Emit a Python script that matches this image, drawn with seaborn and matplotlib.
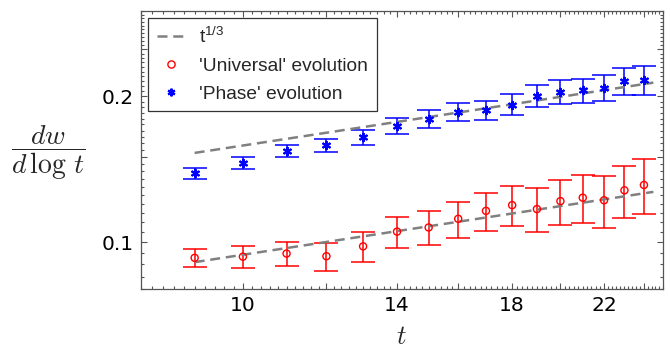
import numpy as np
import pandas as pd
import matplotlib
matplotlib.use("Agg")
import matplotlib.pyplot as plt
from matplotlib.ticker import FixedLocator, FixedFormatter, NullFormatter
from matplotlib.font_manager import FontProperties
from matplotlib.lines import Line2D
import seaborn as sns

# Time steps
t = [9, 10, 11, 12, 13, 14, 15, 16, 17, 18, 19, 20, 21, 22, 23, 24]

# 'Universal' evolution: dw/dlog t and its uncertainty
universal = [0.0929, 0.0934, 0.0948, 0.0936, 0.0981, 0.1052, 0.1073, 0.1118,
             0.1161, 0.1193, 0.1171, 0.1216, 0.1236, 0.1221, 0.1280, 0.1313]
universal_err = [0.0040, 0.0047, 0.0054, 0.0062, 0.0070, 0.0077, 0.0085, 0.0095,
                 0.0104, 0.0112, 0.0121, 0.0131, 0.0142, 0.0151, 0.0160, 0.0169]

# 'Phase' evolution: dw/dlog t and its uncertainty
phase = [0.1387, 0.1458, 0.1543, 0.1585, 0.1646, 0.1736, 0.1798, 0.1855,
         0.1872, 0.1923, 0.2004, 0.2045, 0.2057, 0.2081, 0.2150, 0.2164]
phase_err = [0.0034, 0.0040, 0.0045, 0.0052, 0.0058, 0.0066, 0.0074, 0.0080,
             0.0088, 0.0096, 0.0105, 0.0115, 0.0119, 0.0129, 0.0138, 0.0147]

# t^(1/3) reference curves: prefactors and time span
phase_coef = 0.0735
universal_coef = 0.04375
fit_span = [9.0, 24.5]

# Axis ticks
x_major = [10, 12, 14, 16, 18, 20, 22, 24]
x_major_labels = ["10", "", "14", "", "18", "", "22", ""]
y_major = [0.1, 0.15, 0.2, 0.25]
y_major_labels = ["0.1", "", "0.2", ""]

sns.set_theme(style="ticks")
plt.rcParams["font.family"] = ["DejaVu Sans"]
plt.rcParams["mathtext.fontset"] = "custom"
plt.rcParams["mathtext.rm"] = "Liberation Sans"
plt.rcParams["mathtext.it"] = "Liberation Sans:italic"
plt.rcParams["mathtext.bf"] = "Liberation Sans:bold"

fig = plt.figure(figsize=(6.7, 3.54), dpi=100)
ax = fig.add_axes([0.21, 0.1828, 0.779, 0.7862])

red = "#ff0000"
blue = "#0000ff"
gray = "#808080"
frame = "#555555"
dash = (0, (4.0, 2.3))

# Error bars
ax.errorbar(t, universal, yerr=universal_err, fmt="none", ecolor=red,
            elinewidth=1.1, capsize=8.7, capthick=1.1, zorder=2)
ax.errorbar(t, phase, yerr=phase_err, fmt="none", ecolor=blue,
            elinewidth=1.1, capsize=8.7, capthick=1.1, zorder=2)

# t^(1/3) guide lines
span = np.array(fit_span)
fits = pd.DataFrame({
    "t": np.concatenate([span, span]),
    "value": np.concatenate([phase_coef * span ** (1 / 3),
                             universal_coef * span ** (1 / 3)]),
    "curve": ["phase"] * 2 + ["universal"] * 2,
})
for name, grp in fits.groupby("curve", sort=False):
    sns.lineplot(data=grp, x="t", y="value", ax=ax, color=gray,
                 linewidth=1.8, linestyle=dash, zorder=3,
                 estimator=None, sort=False, legend=False)

# Data markers
circle_style = dict(marker="o", s=26, linewidth=1.0)
star_style = dict(marker=(6, 2, 0), s=28, linewidth=1.6)
sns.scatterplot(x=t, y=universal, ax=ax, facecolors="none", edgecolor=red,
                zorder=4, legend=False, **circle_style)
sns.scatterplot(x=t, y=phase, ax=ax, color=blue, edgecolor=blue,
                zorder=4, legend=False, **star_style)

ax.set_xscale("log")
ax.set_yscale("log")
ax.set_xlim(8, 25)
ax.set_ylim(0.08, 0.30)

ax.xaxis.set_major_locator(FixedLocator(x_major))
ax.xaxis.set_major_formatter(FixedFormatter(x_major_labels))
x_minor = [v for v in np.round(np.arange(8.0, 25.01, 0.2), 2) if v not in x_major]
ax.xaxis.set_minor_locator(FixedLocator(x_minor))
ax.xaxis.set_minor_formatter(NullFormatter())

ax.yaxis.set_major_locator(FixedLocator(y_major))
ax.yaxis.set_major_formatter(FixedFormatter(y_major_labels))
y_minor = [v for v in np.round(np.arange(0.08, 0.3001, 0.005), 3) if v not in y_major]
ax.yaxis.set_minor_locator(FixedLocator(y_minor))
ax.yaxis.set_minor_formatter(NullFormatter())

ax.tick_params(which="both", direction="in", top=True, right=True,
               color=frame, width=0.8, labelcolor="black", labelsize=14.5)
ax.tick_params(which="major", length=4.2, pad=5)
ax.tick_params(which="minor", length=2.0)
for sp in ax.spines.values():
    sp.set_color(frame)
    sp.set_linewidth(0.9)

ax.set_xlabel("$t$", fontsize=19, math_fontfamily="cm", labelpad=6)
ax.set_ylabel(r"$\dfrac{dw}{d\,\log\,t}$", fontsize=20, math_fontfamily="cm",
              rotation=0, ha="center", va="center")
ax.yaxis.set_label_coords(-0.178, 0.49)

# Legend entries
handles = [
    Line2D([], [], color=gray, linewidth=1.8, linestyle=dash),
    Line2D([], [], linestyle="none", marker="o", markersize=5.2,
           markerfacecolor="none", markeredgecolor=red, markeredgewidth=1.0),
    Line2D([], [], linestyle="none", marker=(6, 2, 0), markersize=5.5,
           color=blue, markeredgewidth=1.6),
]
labels = ["t$^{1/3}$", "'Universal' evolution", "'Phase' evolution"]
leg = ax.legend(handles, labels, loc="upper left",
                bbox_to_anchor=(0.0146, 0.974), borderaxespad=0,
                prop=FontProperties(family=["Liberation Sans"], size=13.8),
                frameon=True, fancybox=False, framealpha=1, edgecolor="#333333",
                handlelength=1.45, handletextpad=0.75, labelspacing=0.55,
                borderpad=0.45, numpoints=1)
leg.get_frame().set_linewidth(0.9)

fig.savefig("out.png", dpi=100)
